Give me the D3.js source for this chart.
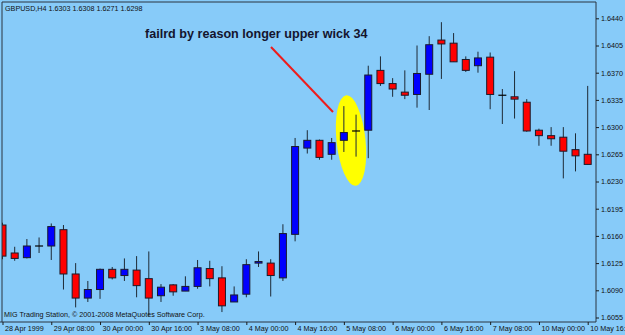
<!DOCTYPE html>
<html>
<head>
<style>
    body {
        margin: 0;
        background-color: #87cbf9;
    }

    svg {
        display: block;
    }

    .small {
        font-family: "Liberation Sans", Arial, sans-serif;
        font-size: 7.2px;
        fill: #111;
    }
</style>
</head>
<body>
<div id="chart"></div>
<script src="https://d3js.org/d3.v7.min.js"></script>
<script>
    // GBPUSD H4 candles
    var opens = [1.6174, 1.6138, 1.6132, 1.6147, 1.6147, 1.6168, 1.6111, 1.6080, 1.6091, 1.6117,
        1.6109, 1.6116, 1.6105, 1.6083, 1.6097, 1.6089, 1.6095, 1.6118, 1.6106, 1.6075,
        1.6085, 1.6125, 1.6125, 1.6106, 1.6162, 1.6273, 1.6283, 1.6265, 1.6283, 1.6295,
        1.6296, 1.6373, 1.6356, 1.6345, 1.6342, 1.6368, 1.6412, 1.6408, 1.6387, 1.6379,
        1.6390, 1.6341, 1.6339, 1.6332, 1.6296, 1.6289, 1.6287, 1.6271, 1.6265];
    var highs = [1.6177, 1.6146, 1.6156, 1.6158, 1.6176, 1.6174, 1.6125, 1.6102, 1.6118, 1.6120,
        1.6131, 1.6134, 1.6140, 1.6098, 1.6098, 1.6108, 1.6129, 1.6128, 1.6121, 1.6095,
        1.6130, 1.6140, 1.6130, 1.6175, 1.6286, 1.6296, 1.6284, 1.6286, 1.6327, 1.6316,
        1.6379, 1.6391, 1.6363, 1.6373, 1.6405, 1.6417, 1.6435, 1.6421, 1.6391, 1.6397,
        1.6396, 1.6349, 1.6372, 1.6336, 1.6298, 1.6300, 1.6300, 1.6292, 1.6353];
    var lows = [1.6130, 1.6128, 1.6131, 1.6138, 1.6129, 1.6091, 1.6068, 1.6075, 1.6079, 1.6104,
        1.6102, 1.6081, 1.6057, 1.6075, 1.6083, 1.6089, 1.6092, 1.6095, 1.6062, 1.6075,
        1.6081, 1.6120, 1.6082, 1.6102, 1.6153, 1.6266, 1.6258, 1.6258, 1.6268, 1.6262,
        1.6260, 1.6353, 1.6339, 1.6336, 1.6325, 1.6322, 1.6362, 1.6384, 1.6371, 1.6370,
        1.6323, 1.6304, 1.6311, 1.6294, 1.6276, 1.6276, 1.6234, 1.6243, 1.6252];
    var closes = [1.6134, 1.6131, 1.6147, 1.6147, 1.6172, 1.6111, 1.6080, 1.6091, 1.6117, 1.6106,
        1.6117, 1.6096, 1.6080, 1.6094, 1.6088, 1.6095, 1.6119, 1.6105, 1.6070, 1.6084,
        1.6123, 1.6127, 1.6109, 1.6163, 1.6275, 1.6283, 1.6261, 1.6280, 1.6293, 1.6295,
        1.6367, 1.6356, 1.6349, 1.6341, 1.6369, 1.6406, 1.6407, 1.6384, 1.6373, 1.6389,
        1.6342, 1.6341, 1.6336, 1.6295, 1.6289, 1.6285, 1.6269, 1.6263, 1.6252];

    // one label every 4 bars
    var xLabels = ["28 Apr 1999", "29 Apr 08:00", "30 Apr 00:00", "30 Apr 16:00", "3 May 08:00",
        "4 May 00:00", "4 May 16:00", "5 May 08:00", "6 May 00:00", "6 May 16:00",
        "7 May 08:00", "10 May 00:00", "10 May 16:00"];
    var yTicks = [1.6055, 1.6090, 1.6125, 1.6160, 1.6195, 1.6230, 1.6265, 1.6300,
        1.6335, 1.6370, 1.6405, 1.6440];

    var W = 625, H = 335;
    var pLeft = 2, pRight = 596, pTop = 2, pBottom = 322;

    var svg = d3.select("#chart").append("svg")
        .attr("width", W)
        .attr("height", H);

    var bars = d3.range(opens.length);
    var x = d3.scalePoint().domain(bars).range([2.5, 587.7]);
    var y = d3.scaleLinear().domain([1.6055, 1.6440]).range([317.5, 18.3]);

    svg.append("clipPath").attr("id", "plotclip")
        .append("rect")
        .attr("x", pLeft).attr("y", pTop)
        .attr("width", pRight - pLeft).attr("height", pBottom - pTop);

    var plot = svg.append("g").attr("clip-path", "url(#plotclip)");

    // highlight around the two candles
    plot.append("ellipse")
        .attr("cx", 351).attr("cy", 140.5)
        .attr("rx", 14.5).attr("ry", 45.5)
        .attr("transform", "rotate(-6 351 140.5)")
        .attr("fill", "#ffff00");

    plot.append("line")
        .attr("x1", 271).attr("y1", 47)
        .attr("x2", 333).attr("y2", 112)
        .attr("stroke", "#ee1c1c")
        .attr("stroke-width", 2);

    var candle = plot.selectAll("g.candle")
        .data(bars)
        .enter()
        .append("g")
        .attr("class", "candle");

    candle.append("line")
        .attr("x1", d => x(d)).attr("x2", d => x(d))
        .attr("y1", d => y(highs[d])).attr("y2", d => y(lows[d]))
        .attr("stroke", "#1e2a36")
        .attr("stroke-width", 1);

    candle.filter(d => opens[d] !== closes[d])
        .append("rect")
        .attr("x", d => x(d) - 3.5)
        .attr("width", 7)
        .attr("y", d => y(Math.max(opens[d], closes[d])))
        .attr("height", d => Math.max(1, Math.abs(y(opens[d]) - y(closes[d]))))
        .attr("fill", d => closes[d] > opens[d] ? "#0000ff" : "#ff0000")
        .attr("stroke", "#1b1b2b")
        .attr("stroke-width", 1);

    candle.filter(d => opens[d] === closes[d])
        .append("line")
        .attr("x1", d => x(d) - 4).attr("x2", d => x(d) + 4)
        .attr("y1", d => y(opens[d])).attr("y2", d => y(opens[d]))
        .attr("stroke", "#000")
        .attr("stroke-width", 1.2);

    // frame and axis lines
    svg.append("path")
        .attr("d", "M" + pLeft + "," + pBottom + "V" + pTop + "H" + pRight + "V" + pBottom + "H0")
        .attr("fill", "none")
        .attr("stroke", "#2a3440")
        .attr("stroke-width", 1);

    var yAxis = svg.append("g")
        .attr("transform", "translate(" + pRight + ",0)")
        .call(d3.axisRight(y).tickValues(yTicks).tickFormat(d3.format(".4f"))
            .tickSize(3).tickPadding(2));
    yAxis.select(".domain").remove();

    var xAxis = svg.append("g")
        .attr("transform", "translate(0," + pBottom + ")")
        .call(d3.axisBottom(x).tickValues(bars.filter(d => d % 4 === 0))
            .tickFormat(d => xLabels[d / 4]).tickSize(3).tickPadding(1));
    xAxis.select(".domain").remove();
    xAxis.selectAll("text").attr("text-anchor", "start").attr("dx", "2");

    svg.selectAll(".tick line").attr("stroke", "#1a1a1a");
    svg.selectAll(".tick text").attr("class", "small").attr("font-family", null).attr("font-size", null);

    // texts
    svg.append("text")
        .attr("class", "small")
        .attr("x", 5).attr("y", 10.5)
        .text("GBPUSD,H4  1.6303 1.6308 1.6271 1.6298");

    svg.append("text")
        .attr("class", "small")
        .attr("x", 4).attr("y", 317)
        .text("MIG Trading Station, \u00a9 2001-2008 MetaQuotes Software Corp.");

    svg.append("text")
        .attr("x", 145).attr("y", 38.3)
        .attr("font-family", "Liberation Sans, Arial, sans-serif")
        .attr("font-weight", "bold")
        .attr("font-size", "12.6px")
        .attr("fill", "#14142e")
        .text("failrd by reason longer upper wick 34");
</script>
</body>
</html>
